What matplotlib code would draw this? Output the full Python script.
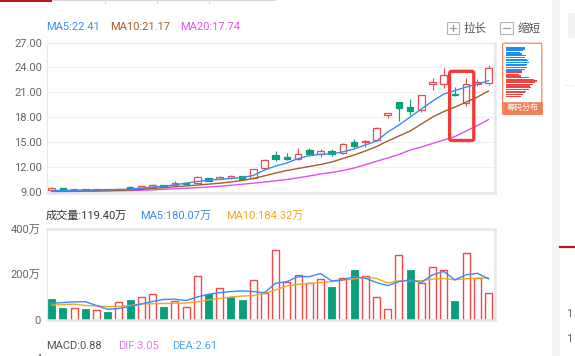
import matplotlib
matplotlib.use('Agg')
import matplotlib.pyplot as plt
from matplotlib.patches import Rectangle, FancyBboxPatch
import numpy as np

plt.rcParams['font.family'] = ['Roboto', 'Noto Sans CJK SC', 'DejaVu Sans']

# ---------------- data ----------------
opens = [9.31, 9.48, 9.28, 9.36, 9.30, 9.38, 9.34, 9.67, 9.48, 9.60,
         9.84, 9.88, 10.12, 10.15, 10.68, 10.63, 10.68, 10.92, 10.72, 11.88,
         13.48, 13.27, 12.96, 14.08, 13.63, 13.99, 13.68, 15.04, 15.00, 15.34,
         18.28, 19.87, 19.27, 18.94, 21.96, 21.96, 20.76, 19.68, 21.96, 22.08]
closes = [9.55, 9.28, 9.32, 9.30, 9.36, 9.32, 9.42, 9.40, 9.72, 9.88,
          9.62, 10.15, 10.00, 10.80, 10.39, 10.87, 10.96, 10.63, 11.76, 12.88,
          13.00, 13.03, 13.63, 13.63, 13.99, 13.56, 14.76, 14.62, 15.19, 16.78,
          18.48, 19.15, 18.79, 20.68, 22.27, 23.08, 20.68, 21.96, 22.27, 23.88]
highs = [9.62, 9.52, 9.36, 9.40, 9.40, 9.40, 9.45, 9.72, 9.76, 10.02,
         9.90, 10.30, 10.20, 10.95, 10.75, 10.92, 11.05, 10.98, 11.80, 12.95,
         13.95, 13.68, 14.27, 14.36, 14.16, 14.16, 14.88, 15.36, 15.25, 16.85,
         18.50, 19.90, 20.27, 20.75, 22.70, 23.96, 21.68, 22.76, 22.60, 24.28]
lows = [9.28, 9.24, 9.25, 9.28, 9.28, 9.30, 9.32, 9.38, 9.45, 9.58,
        9.60, 9.85, 9.95, 10.10, 10.35, 10.60, 10.65, 10.60, 10.70, 11.80,
        12.80, 12.88, 12.90, 13.40, 13.20, 13.36, 13.60, 14.36, 14.48, 15.20,
        17.88, 17.56, 18.28, 18.60, 21.28, 21.56, 20.60, 19.36, 21.76, 21.90]
ma5 = [9.22, 9.22, 9.24, 9.28, 9.28, 9.31, 9.34, 9.40, 9.50, 9.62,
       9.73, 9.90, 10.10, 10.30, 10.45, 10.57, 10.67, 10.78, 11.02, 11.68,
       12.16, 12.52, 13.06, 13.40, 13.57, 13.62, 13.86, 14.20, 14.68, 15.16,
       16.24, 17.08, 18.04, 19.00, 19.96, 20.80, 21.22, 21.64, 22.00, 22.41]
ma10 = [9.16, 9.16, 9.16, 9.18, 9.19, 9.22, 9.24, 9.28, 9.36, 9.46,
        9.56, 9.66, 9.76, 9.87, 9.98, 10.09, 10.24, 10.42, 10.66, 10.98,
        11.32, 11.62, 11.86, 12.10, 12.34, 12.64, 13.06, 13.48, 13.96, 14.50,
        15.16, 15.76, 16.36, 17.20, 18.04, 18.70, 19.24, 19.84, 20.44, 21.17]
ma20 = [9.10, 9.10, 9.11, 9.12, 9.13, 9.16, 9.18, 9.20, 9.24, 9.29,
        9.36, 9.43, 9.49, 9.56, 9.64, 9.73, 9.84, 9.97, 10.09, 10.24,
        10.38, 10.54, 10.74, 10.96, 11.20, 11.38, 11.62, 11.92, 12.32, 12.73,
        13.13, 13.54, 14.08, 14.44, 14.86, 15.28, 15.70, 16.36, 17.02, 17.74]
volumes = [90, 50, 51, 45, 41, 35, 79, 87, 101, 112,
           57, 81, 54, 195, 113, 141, 101, 87, 174, 116,
           309, 165, 198, 164, 179, 146, 186, 220, 193, 101,
           45, 287, 220, 161, 232, 220, 82, 294, 183, 119.40]
vol_up = [0, 0, 1, 0, 1, 0, 1, 0, 1, 1,
          0, 1, 1, 1, 0, 1, 0, 0, 1, 1,
          1, 1, 1, 1, 1, 0, 1, 0, 1, 1,
          1, 1, 0, 1, 1, 1, 0, 1, 1, 1]
vol_ma5 = [72, 75, 78, 79, 62, 45, 49, 58, 69, 80,
           89, 90, 84, 100, 112, 119, 124, 127, 124, 119,
           161, 168, 190, 190, 204, 171, 176, 190, 183, 164,
           150, 168, 176, 164, 198, 213, 176, 198, 205, 180.07]
vol_ma10 = [64, 66, 68, 62, 60, 57, 58, 62, 69, 70,
            71, 72, 73, 79, 87, 93, 100, 104, 106, 116,
            131, 149, 156, 160, 164, 168, 174, 180, 188, 182,
            162, 172, 172, 172, 179, 182, 176, 181, 183, 184.32]
price_ticks = [9, 12, 15, 18, 21, 24, 27]
vol_ticks = [0, 200, 400]
vol_tick_labels = ['0', '200万', '400万']
macd_val, dif_val, dea_val = 0.88, 3.05, 2.61
chip_blue = [19.3, 18.7, 16.7, 14, 16, 20, 18.7, 21.3, 22, 22.7, 21.3, 20, 20.7, 18.7, 16]
chip_red = [16, 13.3, 15.3, 22.7, 28, 30.7, 29.3, 26.7, 24, 25.3, 22.7, 20, 18.7, 17.3, 15.3]

# ---------------- styles ----------------
W, H = 575, 356
RED = '#ee4a4a'
GREEN = '#0a9f7a'
C_MA5 = '#3b8cf2'
C_MA10 = '#a55e28'
C_MA20 = '#df52f0'
C_VMA5 = '#3b8cf2'
C_VMA10 = '#f5a52a'
FRAME = '#e4e8ee'
TICKC = '#666666'

fig = plt.figure(figsize=(W / 100, H / 100), dpi=100)
fig.patch.set_facecolor('white')


def add_ax(l, t, r, b):
    return fig.add_axes([l / W, 1 - b / H, (r - l) / W, (b - t) / H])


def style_frame(ax, thin=('left', 'top'), thick=('right', 'bottom')):
    for s in thin:
        ax.spines[s].set_color(FRAME)
        ax.spines[s].set_linewidth(0.8)
    for s in thick:
        ax.spines[s].set_color(FRAME)
        ax.spines[s].set_linewidth(1.8)


n = len(closes)
x = np.arange(n)

# ---------------- price panel ----------------
axp = add_ax(47, 42.5, 495, 193)
axp.set_xlim(-0.42, n - 0.42)
axp.set_ylim(8.916, 27.0)
axp.set_yticks(price_ticks)
axp.set_yticklabels([f'{t:.2f}' for t in price_ticks])
axp.set_xticks([])
axp.tick_params(axis='y', length=0, pad=3.5, labelsize=8, labelcolor=TICKC)
axp.grid(axis='y', color='#eef0f3', lw=0.8)
axp.set_axisbelow(True)
style_frame(axp)

bw = 0.6
for i in range(n):
    o, c, h, l = opens[i], closes[i], highs[i], lows[i]
    up = c >= o
    col = RED if up else GREEN
    axp.vlines(i, l, h, color=col, lw=0.8, zorder=2)
    bottom = min(o, c)
    height = max(abs(c - o), 0.07)
    axp.add_patch(Rectangle((i - bw / 2, bottom), bw, height,
                            facecolor='white' if up else col,
                            edgecolor=col, lw=0.9, zorder=3))

axp.plot(x, ma20, color=C_MA20, lw=1.0, zorder=4)
axp.plot(x, ma10, color=C_MA10, lw=1.0, zorder=4)
axp.plot(x, ma5, color=C_MA5, lw=1.0, zorder=4)

# ---------------- volume panel ----------------
axv = add_ax(47, 229, 495, 320)
axv.set_xlim(-0.42, n - 0.42)
axv.set_ylim(-2.2, 401.3)
axv.set_yticks(vol_ticks)
axv.set_yticklabels(vol_tick_labels)
axv.set_xticks([])
axv.tick_params(axis='y', length=0, pad=4.5, labelsize=8, labelcolor=TICKC)
style_frame(axv, thin=('left',), thick=('right', 'bottom', 'top'))

for i in range(n):
    if vol_up[i]:
        axv.bar(x[i], volumes[i], width=0.62, facecolor='white',
                edgecolor=RED, lw=1.0, zorder=2)
    else:
        axv.bar(x[i], volumes[i], width=0.62, facecolor=GREEN,
                edgecolor=GREEN, lw=0.6, zorder=2)
axv.plot(x, vol_ma10, color=C_VMA10, lw=1.0, zorder=3)
axv.plot(x, vol_ma5, color=C_VMA5, lw=1.0, zorder=3)

# ---------------- overlay (labels & decorations, pixel space) ----------------
ov = fig.add_axes([0, 0, 1, 1])
ov.set_xlim(0, W)
ov.set_ylim(H, 0)
ov.axis('off')
ov.set_zorder(10)

fs = 8
ov.text(46.5, 27.5, f'MA5:{ma5[-1]:.2f}', color=C_MA5, fontsize=fs, va='center')
ov.text(110, 27.5, f'MA10:{ma10[-1]:.2f}', color=C_MA10, fontsize=fs, va='center')
ov.text(180, 27.5, f'MA20:{ma20[-1]:.2f}', color=C_MA20, fontsize=fs, va='center')

ov.text(46, 216, f'成交量:{volumes[-1]:.2f}万', color='#333333', fontsize=fs, va='center')
ov.text(140, 216, f'MA5:{vol_ma5[-1]:.2f}万', color=C_VMA5, fontsize=fs, va='center')
ov.text(226, 216, f'MA10:{vol_ma10[-1]:.2f}万', color=C_VMA10, fontsize=fs, va='center')

ov.text(46, 346, f'MACD:{macd_val:.2f}', color='#555555', fontsize=fs, va='center')
ov.text(118, 346, f'DIF:{dif_val:.2f}', color='#e07ae4', fontsize=fs, va='center')
ov.text(172.5, 346, f'DEA:{dea_val:.2f}', color='#4ea8ea', fontsize=fs, va='center')
ov.text(42, 358.5, '4', color=TICKC, fontsize=fs, va='center', ha='right')

# zoom buttons
for bx, label, plus in [(446.7, '拉长', True), (500.3, '缩短', False)]:
    ov.add_patch(Rectangle((bx, 21.8), 12.6, 12.6, facecolor='white',
                           edgecolor='#b4b4b4', lw=0.8))
    ov.plot([bx + 3, bx + 9.6], [28.1, 28.1], color='#a0a0a0', lw=0.9)
    if plus:
        ov.plot([bx + 6.3, bx + 6.3], [24.8, 31.4], color='#a0a0a0', lw=0.9)
    ov.text(bx + 17, 28.3, label, color='#555555', fontsize=8.3, va='center')

# chip distribution icon
ov.add_patch(FancyBboxPatch((502.6, 43.2), 39.2, 71.2,
                            boxstyle='round,pad=0,rounding_size=1.5',
                            facecolor='white', edgecolor='#f0875f', lw=0.9))
ov.add_patch(Rectangle((502.6, 102), 39.2, 12.4, facecolor='#ef8157',
                       edgecolor='#ef8157', lw=0.5))
ov.text(522.2, 108.4, '筹码分布', color='white', fontsize=5.8,
        ha='center', va='center')
axc = add_ax(506, 46.5, 540, 97)
axc.axis('off')
nb, nr = len(chip_blue), len(chip_red)
axc.barh(np.arange(nb), chip_blue, height=0.72, color='#1a8ff5', left=0)
axc.barh(np.arange(nb, nb + nr), chip_red, height=0.72, color='#f04343', left=0)
axc.set_xlim(0, 34)
axc.set_ylim(nb + nr - 0.5, -0.5)
axc.set_zorder(11)

# highlight box
ov.add_patch(FancyBboxPatch((449.6, 71.3), 24.2, 69.2,
                            boxstyle='round,pad=0,rounding_size=2.2',
                            fill=False, edgecolor='#f13b3b', lw=2.4))

# right side UI fragments
ov.add_patch(Rectangle((552, 0), 8, H, facecolor='#f4f5f7', edgecolor='none'))
ov.add_patch(Rectangle((568, 13), 7, 25, facecolor='#f2f3f5', edgecolor='none'))
ov.plot([565, 575], [85, 85], color='#dddddd', lw=0.6, ls=(0, (2, 2)))
ov.plot([560, 575], [246.5, 246.5], color='#c0141c', lw=1.6)
ov.text(566.5, 314, '1', color=TICKC, fontsize=fs, va='center')
ov.text(566.5, 339, '1', color=TICKC, fontsize=fs, va='center')

# top tab bar fragments
ov.add_patch(Rectangle((0, 0), 52, 1.8, facecolor='#c0161e', edgecolor='none'))
ov.plot([52, 275], [0.4, 0.4], color='#d8d8d8', lw=0.8)
for dx in [105, 157, 209]:
    ov.plot([dx, dx], [0, 2.5], color='#d8d8d8', lw=0.7)

fig.savefig('out.png', dpi=100, facecolor='white')
